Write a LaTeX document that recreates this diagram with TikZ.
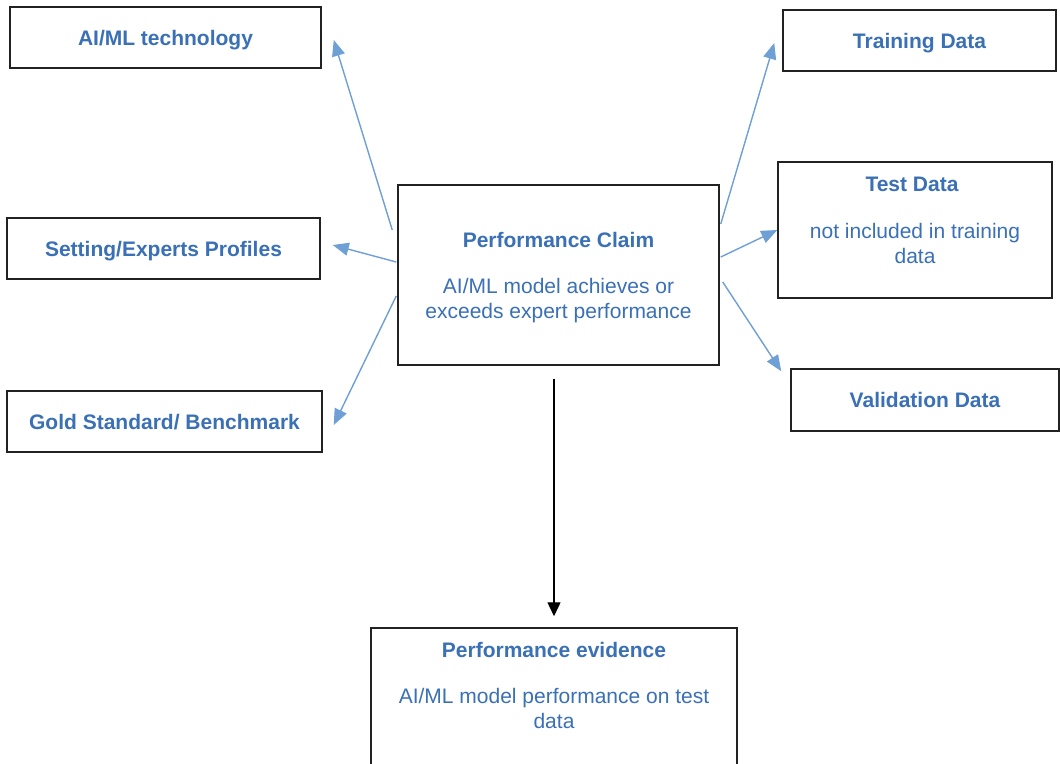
\documentclass[tikz,border=0pt]{standalone}
\usepackage{fontspec}
\setmainfont{Liberation Sans}
\usetikzlibrary{arrows.meta,calc}
\definecolor{txtblue}{HTML}{3A70B5}
\definecolor{arrblue}{HTML}{6E9FD5}
\definecolor{boxline}{HTML}{222222}
\tikzset{
  box/.style={draw=boxline, line width=1.5pt, fill=white, inner sep=0pt},
  ttl/.style={text=txtblue, font=\fontsize{21}{25}\selectfont\bfseries, anchor=base, inner sep=0pt},
  txt/.style={text=txtblue, font=\fontsize{21}{25}\selectfont, anchor=base, inner sep=0pt},
  link/.style={draw=arrblue, line width=1.4pt, -{Triangle[length=16pt,width=13pt]}},
  mainlink/.style={draw=black, line width=1.4pt, -{Triangle[length=14pt,width=13pt]}},
}
\begin{document}
\begin{tikzpicture}[x=1pt,y=-1pt]
\useasboundingbox (0,0) rectangle (1060,763);

% boxes
\node[box, minimum width=311pt, minimum height=61pt] (tech) at (165.5,37.5) {};
\node[box, minimum width=313pt, minimum height=61pt] (setting) at (163.5,248.5) {};
\node[box, minimum width=315pt, minimum height=61pt] (gold) at (164.5,421.5) {};
\node[box, minimum width=321pt, minimum height=180pt] (claim) at (558.5,275) {};
\node[box, minimum width=273pt, minimum height=61pt] (train) at (919.5,40.5) {};
\node[box, minimum width=274pt, minimum height=136pt] (test) at (915,230) {};
\node[box, minimum width=268pt, minimum height=62pt] (valid) at (925,400) {};
\node[box, minimum width=366pt, minimum height=150pt] (evid) at (554,703) {};

% texts
\node[ttl] at (165.5,45) {AI/ML technology};
\node[ttl] at (163.5,256) {Setting/Experts Profiles};
\node[ttl] at (164.5,429) {Gold Standard/ Benchmark};
\node[ttl] at (558.5,247) {Performance Claim};
\node[txt] at (558.5,293) {AI/ML model achieves or};
\node[txt] at (558.5,318) {exceeds expert performance};
\node[ttl] at (919.5,48) {Training Data};
\node[ttl] at (912,191) {Test Data};
\node[txt] at (915,238) {not included in training};
\node[txt] at (915,263) {data};
\node[ttl] at (925,407) {Validation Data};
\node[ttl] at (554,657) {Performance evidence};
\node[txt] at (554,703) {AI/ML model performance on test};
\node[txt] at (554,728) {data};

% connectors
\draw[link] ($(claim.west)+(-5,-45)$) -- ($(tech.east)+(12,2.5)$);
\draw[link] ($(claim.west)+(-1,-13)$) -- ($(setting.east)+(12,-3.5)$);
\draw[link] ($(claim.west)+(-1,21)$) -- ($(gold.east)+(11,3.5)$);
\draw[link] ($(claim.east)+(1,-51)$) -- ($(train.west)+(-8,2.5)$);
\draw[link] ($(claim.east)+(1,-18)$) -- (test.west);
\draw[link] ($(claim.east)+(3,7)$) -- ($(valid.north west)+(-9,3)$);
\draw[mainlink] ($(claim.south)+(-4.5,13)$) -- ($(evid.north)+(0,-11)$);
\end{tikzpicture}
\end{document}
